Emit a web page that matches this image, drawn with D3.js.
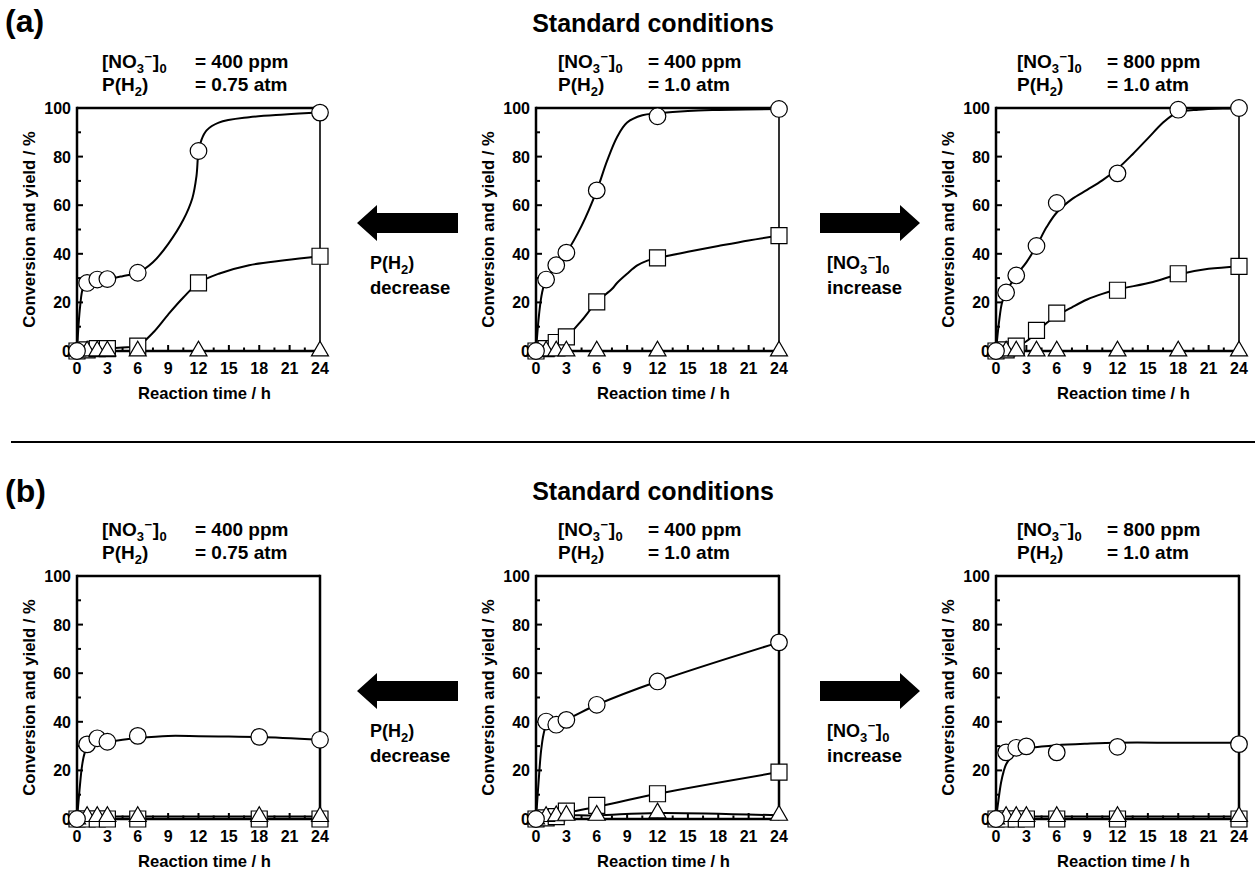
<!DOCTYPE html>
<html><head><meta charset="utf-8">
<script src="https://cdn.jsdelivr.net/npm/d3@7"></script>
<style>
body{margin:0;background:#fff}
svg{display:block}
text{font-family:"Liberation Sans",Arial,sans-serif;font-weight:bold;fill:#000}
</style>
</head><body><svg id="c" width="1255" height="872"></svg>
<script>
// ---------- tick labels / axis texts ----------
const xTickValues = [0, 3, 6, 9, 12, 15, 18, 21, 24];
const yTickValues = [0, 20, 40, 60, 80, 100];
const xLabelText = "Reaction time / h";
const yLabelText = "Conversion and yield / %";
const headerText = "Standard conditions";
const rowLetters = ["(a)", "(b)"];
const concLabels = ["400", "400", "800", "400", "400", "800"];
const pressLabels = ["0.75", "1.0", "1.0", "0.75", "1.0", "1.0"];

// ---------- panel (a) left : 400 ppm, 0.75 atm ----------
const timeA1 = [0, 1, 2, 3, 6, 12, 24];
const circA1 = [0, 28, 29.4, 29.6, 32.2, 82.3, 98.1];
const sqA1 = [0, 0.5, 1, 1, 2, 28, 39];
const triA1 = [0, 0, 0, 0, 0, 0, 0];
const fitCircA1 = [[0,0],[0.3,18],[0.6,26],[1,28],[2,29.2],[3,29.6],[4.5,30.8],[6,32.2],[7.5,36.5],[9,44],[10.5,54],[11.4,63],[11.8,72],[12,82],[12.3,87],[12.8,90.8],[14,94],[17,96.2],[20.5,97.3],[24,98.1]];
const fitSqA1 = [[0,0],[1,0.6],[2,1],[3,1],[4.5,1.4],[6,2.2],[7.5,7.5],[9,15],[10.5,22],[12,28],[14,31.8],[17,35.3],[20.5,37.3],[24,39]];

// ---------- panel (a) centre : standard ----------
const timeA2 = [0, 1, 2, 3, 6, 12, 24];
const circA2 = [0, 29.4, 35.3, 40.5, 66.1, 96.6, 99.6];
const sqA2 = [0, 1, 3.5, 5.8, 20.2, 38.3, 47.5];
const triA2 = [0, 0, 0, 0, 0, 0, 0];
const fitCircA2 = [[0,0],[0.3,15],[0.6,24],[1,29.4],[2,35.3],[3,40.5],[4.5,51.5],[6,66],[7,78],[8,88],[9,94],[10.5,97],[12,97.8],[15,98.8],[18,99.2],[24,99.6]];
const fitSqA2 = [[0,0],[1,1],[2,3.5],[3,5.8],[4.5,12.5],[6,20.2],[7.5,25.5],[8,28],[9,31.8],[10,35.2],[11,37.2],[12,38.3],[15,40.8],[18,43.2],[21,45.5],[24,47.5]];

// ---------- panel (a) right : 800 ppm ----------
const timeA3 = [0, 1, 2, 4, 6, 12, 18, 24];
const circA3 = [0, 24.1, 31.1, 43.2, 60.9, 73.1, 99.3, 100];
const sqA3 = [0, 0.5, 2, 8.5, 15.6, 25, 31.8, 34.8];
const triA3 = [0, 0, 0, 0, 0, 0, 0, 0];
const fitCircA3 = [[0,0],[0.3,12],[0.6,20],[1,24.1],[2,31.1],[3,36.5],[4,43.2],[5,51],[6,57],[7.5,62.5],[9,66.3],[10.5,70.2],[12,75],[13.5,81],[15,87.5],[16.5,94],[17.5,97.3],[18,98.4],[20,99.3],[24,100]];
const fitSqA3 = [[0,0],[1,0.5],[2,1.5],[3,4],[4,7.5],[5,11.5],[6,14.5],[7.5,18],[9,21.2],[10.5,23.5],[12,25.3],[15.5,28.4],[18,31.5],[21,33.8],[24,34.8]];

// ---------- panel (b) left : 400 ppm, 0.75 atm ----------
const timeB1 = [0, 1, 2, 3, 6, 18, 24];
const circB1 = [0, 30.7, 33.2, 31.8, 34.2, 33.8, 32.6];
const sqB1 = [0, 0, 0, 0, 0, 0, 0];
const triB1 = [0, 1, 1, 1, 1, 1, 1];
const fitCircB1 = [[0,0],[0.25,12],[0.5,22],[0.75,27],[1,29],[2,30.8],[3,31.7],[4.5,32.6],[6,33.3],[9,34.2],[12,34.1],[15,33.9],[18,33.7],[24,32.6]];

// ---------- panel (b) centre : standard ----------
const timeB2 = [0, 1, 2, 3, 6, 12, 24];
const circB2 = [0, 40.1, 38.8, 40.8, 47, 56.6, 72.7];
const sqB2 = [0, 0.5, 1, 3.2, 5.6, 10.4, 19.3];
const triB2 = [0, 1, 1.3, 1.5, 1.5, 2.5, 1.5];
const fitCircB2 = [[0,0],[0.25,15],[0.5,28],[0.75,35],[1,38.3],[1.5,39.3],[2,40],[3,41],[6,47],[12,56.6],[24,72.7]];
const fitSqB2 = [[0,0],[1,0.8],[2,1.5],[3,2.5],[6,5],[12,10.4],[24,19.3]];

// ---------- panel (b) right : 800 ppm ----------
const timeB3 = [0, 1, 2, 3, 6, 12, 24];
const circB3 = [0, 27.4, 29.3, 29.9, 27.4, 29.7, 30.8];
const sqB3 = [0, 0, 0, 0, 0, 0, 0];
const triB3 = [0, 1, 1, 1, 1, 1, 1];
const fitCircB3 = [[0,0],[0.25,8],[0.5,15],[0.75,19.5],[1,22.5],[1.5,25.5],[2,27.3],[3,28.8],[4.5,29.8],[6,30.4],[9,31],[12,31.4],[18,31.4],[24,31.4]];

// ---------- layout ----------
const svg = d3.select("#c");
const W = 243, H = 243;
const colLeft = [77, 536, 996];
const rowTop = [108, 576];
const titleStart = [25, 22, 21];
const titleEq = [118, 112, 111];

const panels = [
  {t: timeA1, c: circA1, s: sqA1, tr: triA1, fc: fitCircA1, fs: fitSqA1, row: 0, col: 0},
  {t: timeA2, c: circA2, s: sqA2, tr: triA2, fc: fitCircA2, fs: fitSqA2, row: 0, col: 1},
  {t: timeA3, c: circA3, s: sqA3, tr: triA3, fc: fitCircA3, fs: fitSqA3, row: 0, col: 2},
  {t: timeB1, c: circB1, s: sqB1, tr: triB1, fc: fitCircB1, fs: null, row: 1, col: 0},
  {t: timeB2, c: circB2, s: sqB2, tr: triB2, fc: fitCircB2, fs: fitSqB2, row: 1, col: 1},
  {t: timeB3, c: circB3, s: sqB3, tr: triB3, fc: fitCircB3, fs: null, row: 1, col: 2},
];

function nitrate(t) {
  t.append("tspan").text("[NO");
  t.append("tspan").text("3").attr("dy", 5).style("font-size", "13px");
  t.append("tspan").text("\u2212").attr("dx", 0.5).attr("dy", -12).style("font-size", "13px");
  t.append("tspan").text("]").attr("dx", 0.5).attr("dy", 7);
  t.append("tspan").text("0").attr("dx", 0.5).attr("dy", 5).style("font-size", "13px");
}
function hydrogen(t) {
  t.append("tspan").text("P(H");
  t.append("tspan").text("2").attr("dy", 5).style("font-size", "13px");
  t.append("tspan").text(")").attr("dy", -5);
}

function title(g, x, xe, y, conc, press) {
  nitrate(g.append("text").attr("x", x).attr("y", y).style("font-size", "19px"));
  g.append("text").attr("x", xe).attr("y", y).style("font-size", "19px").text("= " + conc + " ppm");
  hydrogen(g.append("text").attr("x", x).attr("y", y + 23).style("font-size", "19px"));
  g.append("text").attr("x", xe).attr("y", y + 23).style("font-size", "19px").text("= " + press + " atm");
}

panels.forEach((p, i) => {
  const left = colLeft[p.col], top = rowTop[p.row];
  const x = d3.scaleLinear().domain([0, 24]).range([left, left + W]);
  const y = d3.scaleLinear().domain([0, 100]).range([top + H, top]);
  const g = svg.append("g");

  title(g, left + titleStart[p.col], left + titleEq[p.col], top - 40, concLabels[i], pressLabels[i]);

  // inward ticks
  const xt = d3.range(0, 24.01, 1.5);
  g.selectAll(null).data(xt).join("line")
    .attr("x1", d => x(d)).attr("x2", d => x(d))
    .attr("y1", y(0)).attr("y2", d => y(0) - (d % 3 === 0 ? 6 : 3.5))
    .attr("stroke", "#000").attr("stroke-width", 2);
  const yt = d3.range(0, 100.1, 10);
  g.selectAll(null).data(yt).join("line")
    .attr("y1", d => y(d)).attr("y2", d => y(d))
    .attr("x1", x(0)).attr("x2", d => x(0) + (d % 20 === 0 ? 6 : 4))
    .attr("stroke", "#000").attr("stroke-width", 2);

  // frame
  g.append("line").attr("x1", x(0)).attr("x2", x(24)).attr("y1", y(100)).attr("y2", y(100)).attr("stroke", "#000").attr("stroke-width", 2.5);
  g.append("line").attr("x1", x(0)).attr("x2", x(24)).attr("y1", y(0)).attr("y2", y(0)).attr("stroke", "#000").attr("stroke-width", 2.5);
  g.append("line").attr("x1", x(0)).attr("x2", x(0)).attr("y1", y(0) + 1.25).attr("y2", y(100) - 1.25).attr("stroke", "#000").attr("stroke-width", 2.5);
  g.append("line").attr("x1", x(24)).attr("x2", x(24)).attr("y1", y(0) + 1.25).attr("y2", y(100) - 1.25).attr("stroke", "#000").attr("stroke-width", p.row === 0 ? 1.6 : 2.5);

  // tick labels
  g.selectAll(null).data(xTickValues).join("text")
    .attr("x", d => x(d)).attr("y", y(0) + 23).attr("text-anchor", "middle")
    .style("font-size", "16px").text(d => d);
  g.selectAll(null).data(yTickValues).join("text")
    .attr("x", x(0) - 6).attr("y", d => y(d) + 6).attr("text-anchor", "end")
    .style("font-size", "16px").text(d => d);

  // axis titles
  g.append("text").attr("x", left + W / 2 + 6).attr("y", y(0) + 48).attr("text-anchor", "middle")
    .style("font-size", "16.6px").text(xLabelText);
  g.append("text").attr("transform", `translate(${left - 42},${top + H / 2}) rotate(-90)`)
    .attr("text-anchor", "middle").style("font-size", "16.6px").text(yLabelText);

  // lines
  const line = d3.line().x(d => x(d[0])).y(d => y(d[1])).curve(d3.curveCatmullRom.alpha(0.5));
  const triPts = p.t.map((t, k) => [t, p.tr[k]]);
  const sqPts = p.fs ? p.fs : p.t.map((t, k) => [t, p.s[k]]);
  g.append("path").attr("d", line(triPts)).attr("fill", "none").attr("stroke", "#000").attr("stroke-width", 2);
  g.append("path").attr("d", line(sqPts)).attr("fill", "none").attr("stroke", "#000").attr("stroke-width", 2);
  g.append("path").attr("d", line(p.fc)).attr("fill", "none").attr("stroke", "#000").attr("stroke-width", 2);

  // markers
  const sq = d3.symbol().type(d3.symbolSquare).size(256);
  const tri = d3.symbol().type(d3.symbolTriangle).size(125);
  g.selectAll(null).data(p.t.map((t, k) => [t, p.s[k]])).join("path")
    .attr("d", sq).attr("transform", d => `translate(${x(d[0])},${y(d[1])})`)
    .attr("fill", "#fff").attr("stroke", "#000").attr("stroke-width", 1.2);
  g.selectAll(null).data(triPts).join("path")
    .attr("d", tri).attr("transform", d => `translate(${x(d[0])},${y(d[1])})`)
    .attr("fill", "#fff").attr("stroke", "#000").attr("stroke-width", 1.2);
  g.selectAll(null).data(p.t.map((t, k) => [t, p.c[k]])).join("circle")
    .attr("cx", d => x(d[0])).attr("cy", d => y(d[1])).attr("r", 8.3)
    .attr("fill", "#fff").attr("stroke", "#000").attr("stroke-width", 1.2);
});

// row labels and headers
rowTop.forEach((top, r) => {
  svg.append("text").attr("x", 5).attr("y", top - 76 + (r ? 2 : 0)).style("font-size", "32px").text(rowLetters[r]);
  svg.append("text").attr("x", 653).attr("y", top - 76).attr("text-anchor", "middle").style("font-size", "25px").text(headerText);

  const cy = top + 115;
  // left arrow
  svg.append("path").attr("d",
    `M357,${cy} L377,${cy - 18} L377,${cy - 10} L458,${cy - 10} L458,${cy + 10} L377,${cy + 10} L377,${cy + 18} Z`)
    .attr("fill", "#000");
  // right arrow
  svg.append("path").attr("d",
    `M920,${cy} L900,${cy - 18} L900,${cy - 10} L820,${cy - 10} L820,${cy + 10} L900,${cy + 10} L900,${cy + 18} Z`)
    .attr("fill", "#000");

  hydrogen(svg.append("text").attr("x", 370).attr("y", top + 161).style("font-size", "18px"));
  svg.append("text").attr("x", 370).attr("y", top + 186).style("font-size", "18.5px").text("decrease");

  nitrate(svg.append("text").attr("x", 827).attr("y", top + 161).style("font-size", "18px"));
  svg.append("text").attr("x", 827).attr("y", top + 186).style("font-size", "18.5px").text("increase");
});

// separator
svg.append("line").attr("x1", 11).attr("x2", 1255).attr("y1", 442).attr("y2", 442)
  .attr("stroke", "#000").attr("stroke-width", 2);
</script>
</body></html>
